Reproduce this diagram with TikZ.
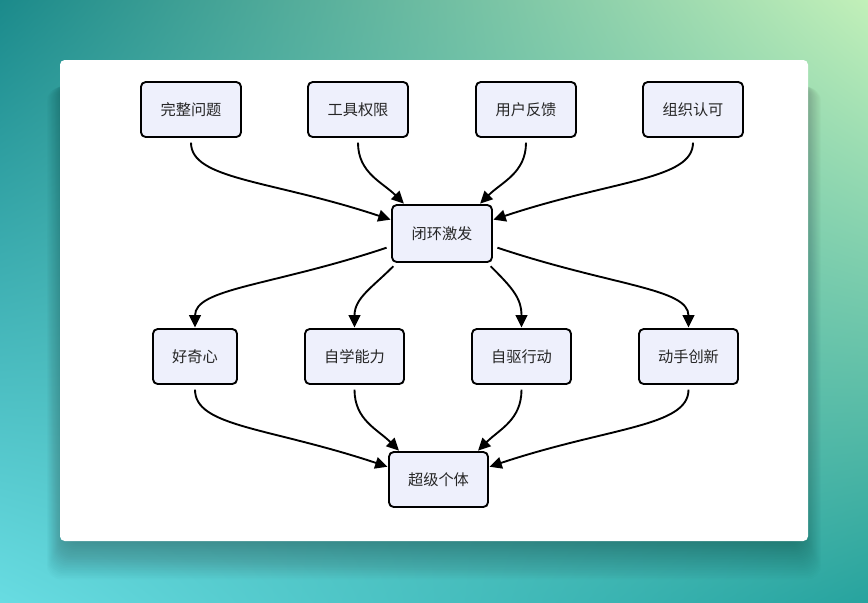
\documentclass[tikz,border=0pt]{standalone}
\usepackage{fontspec}
\setmainfont{Noto Sans CJK SC}
\usetikzlibrary{arrows.meta,shadings}
\definecolor{boxfill}{HTML}{EEF0FC}
\definecolor{bgtl}{HTML}{1B8A8B}
\definecolor{bgtr}{HTML}{C2F0B9}
\definecolor{bgbl}{HTML}{68DCE2}
\definecolor{bgbr}{HTML}{27A39E}
\tikzset{
	box/.style={draw=black, line width=1.6pt, fill=boxfill, rounded corners=4pt,
		minimum width=3cm, minimum height=1.65cm, inner sep=0pt,
		font=\fontsize{13}{15}\selectfont, text=black!85},
	link/.style={line width=1.6pt, -{Triangle[length=10.5pt,width=10pt]},
		shorten <=4pt, shorten >=0.5pt}
}

\begin{document}
\begin{tikzpicture}[x=0.03cm, y=-0.03cm]
	%%%%% START %%%%%
	\shade[upper left=bgtl, upper right=bgtr, lower left=bgbl, lower right=bgbr] (0, 0) rectangle (868, 602);
	\useasboundingbox (0, 0) rectangle (868, 602);
	
	% card with soft shadow
	\foreach \i in {1,...,24}
		\fill[black, opacity=0.011, rounded corners=12pt] (66-\i*0.8, 80+\i*0.3) rectangle (802+\i*0.8, 541+\i*1.6);
	\fill[white, rounded corners=4pt] (60, 60) rectangle (808, 541);
	
	% inputs
	\node[box] (problem) at (191, 109.5) {完整问题};
	\node[box] (tools) at (358, 109.5) {工具权限};
	\node[box] (feedback) at (526, 109.5) {用户反馈};
	\node[box] (approval) at (693, 109.5) {组织认可};
	
	\node[box, minimum height=1.71cm] (loop) at (442, 233.5) {闭环激发};
	
	\node[box, minimum width=2.52cm] (curious) at (195, 356.5) {好奇心};
	\node[box, minimum width=2.97cm] (selflearn) at (354.5, 356.5) {自学能力};
	\node[box, minimum width=2.97cm] (selfdrive) at (521.5, 356.5) {自驱行动};
	\node[box, minimum width=2.97cm] (create) at (688.5, 356.5) {动手创新};
	
	\node[box, minimum width=2.97cm] (super) at (438.5, 479.5) {超级个体};
	
	% top to loop
	\draw[link] (problem.south) .. controls +(0, 42) and +(-120, -40) .. (loop.165);
	\draw[link] (tools.south) .. controls +(0, 35) and +(-22, -22) .. (loop.142);
	\draw[link] (feedback.south) .. controls +(0, 35) and +(22, -22) .. (loop.38);
	\draw[link] (approval.south) .. controls +(0, 42) and +(120, -40) .. (loop.15);
	
	% loop to middle
	\draw[link] (loop.194) .. controls +(-120, 40) and +(0, -40) .. (curious.north);
	\draw[link] (loop.213) .. controls +(-25, 25) and +(0, -30) .. (selflearn.north);
	\draw[link] (loop.327) .. controls +(25, 25) and +(0, -30) .. (selfdrive.north);
	\draw[link] (loop.346) .. controls +(120, 40) and +(0, -40) .. (create.north);
	
	% middle to result
	\draw[link] (curious.south) .. controls +(0, 42) and +(-120, -40) .. (super.166);
	\draw[link] (selflearn.south) .. controls +(0, 35) and +(-22, -22) .. (super.144);
	\draw[link] (selfdrive.south) .. controls +(0, 35) and +(22, -22) .. (super.36);
	\draw[link] (create.south) .. controls +(0, 42) and +(120, -40) .. (super.14);
	%%%%% END %%%%%
\end{tikzpicture}
\end{document}
